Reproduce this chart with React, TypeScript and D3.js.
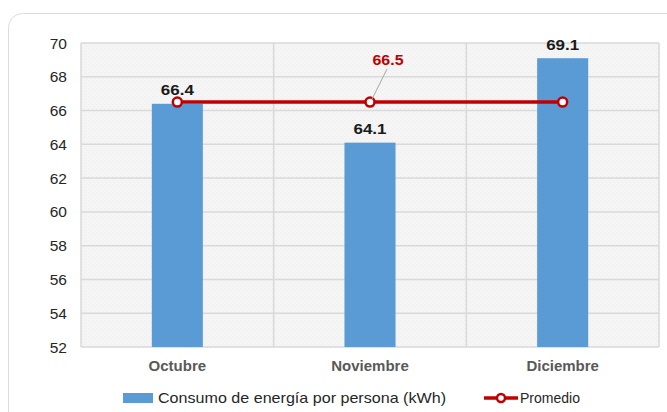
import React from "react";
import * as d3 from "d3";

const categories = ["Octubre", "Noviembre", "Diciembre"];
const consumo = [66.4, 64.1, 69.1];
const promedio = [66.5, 66.5, 66.5];
const yTicks = [52, 54, 56, 58, 60, 62, 64, 66, 68, 70];
const seriesNames = ["Consumo de energía por persona (kWh)", "Promedio"];

const W = 667, H = 412;
const M = { left: 81, right: 659, top: 43, bottom: 347 };
const FONT = "'Liberation Sans', Arial, sans-serif";

export default function App() {
  const x = d3.scaleBand<string>().domain(categories).range([M.left, M.right]).paddingInner(0).paddingOuter(0);
  const y = d3.scaleLinear().domain([52, 70]).range([M.bottom, M.top]);
  const bw = x.bandwidth() * 0.265;
  const cx = (c: string) => (x(c) as number) + x.bandwidth() / 2;
  const line = d3.line<number>().x((_, i) => cx(categories[i])).y((d) => y(d));

  return (
    <svg width={W} height={H} style={{ position: "absolute", left: 0, top: 0, fontFamily: FONT }}>
      <defs>
        <pattern id="dots" width="4" height="4" patternUnits="userSpaceOnUse">
          <rect width="4" height="4" fill="#f5f5f5" />
          <rect width="1" height="1" fill="#ececec" />
          <rect x="2" y="2" width="1" height="1" fill="#ececec" />
        </pattern>
      </defs>
      <rect x={0} y={0} width={W} height={H} fill="#fff" />
      <rect x={8.5} y={13.5} width={700} height={450} rx={14} fill="#fff" stroke="#dcdcdc" strokeWidth={1} />
      <rect x={M.left} y={M.top} width={M.right - M.left} height={M.bottom - M.top} fill="url(#dots)" />
      {yTicks.map((t) => (
        <g key={t}>
          <line x1={M.left} x2={M.right} y1={y(t)} y2={y(t)} stroke="#d9d9d9" strokeWidth={1.5} />
          <text x={67} y={y(t)} dy="0.36em" textAnchor="end" fontSize={15.5} fill="#262626">{t}</text>
        </g>
      ))}
      {categories.map((c) => (
        <line key={c} x1={x(c) as number} x2={x(c) as number} y1={M.top} y2={M.bottom} stroke="#d9d9d9" strokeWidth={1.5} />
      ))}
      <line x1={M.right} x2={M.right} y1={M.top} y2={M.bottom} stroke="#d9d9d9" strokeWidth={1.5} />
      {categories.map((c, i) => (
        <g key={c}>
          <rect x={cx(c) - bw / 2} y={y(consumo[i])} width={bw} height={M.bottom - y(consumo[i])} fill="#5b9bd5" />
          <text x={cx(c)} y={y(consumo[i]) - 8.5} textAnchor="middle" fontSize={15} fontWeight="bold" fill="#1a1a1a" textLength={33} lengthAdjust="spacingAndGlyphs">{consumo[i].toFixed(1)}</text>
          <text x={cx(c)} y={371} textAnchor="middle" fontSize={15} fontWeight="bold" fill="#595959">{c}</text>
        </g>
      ))}
      <path d={line(promedio) || ""} fill="none" stroke="#c00000" strokeWidth={3.5} />
      {promedio.map((v, i) => (
        <circle key={i} cx={cx(categories[i])} cy={y(v)} r={4.5} fill="#fff" stroke="#c00000" strokeWidth={2.5} />
      ))}
      <line x1={cx(categories[1]) + 2} y1={y(promedio[1]) - 3} x2={cx(categories[1]) + 17} y2={y(promedio[1]) - 33} stroke="#a6a6a6" strokeWidth={1} />
      <text x={cx(categories[1]) + 18} y={y(promedio[1]) - 37} textAnchor="middle" fontSize={15} fontWeight="bold" fill="#c00000" textLength={31} lengthAdjust="spacingAndGlyphs">{promedio[1].toFixed(1)}</text>
      <rect x={123} y={393} width={30} height={10} fill="#5b9bd5" />
      <text x={158} y={398} dy="0.36em" fontSize={15} fill="#262626" textLength={288} lengthAdjust="spacingAndGlyphs">{seriesNames[0]}</text>
      <line x1={484} x2={518} y1={398} y2={398} stroke="#c00000" strokeWidth={3.5} />
      <circle cx={501} cy={398} r={4} fill="#fff" stroke="#c00000" strokeWidth={2.5} />
      <text x={520} y={398} dy="0.36em" fontSize={15} fill="#262626" textLength={60} lengthAdjust="spacingAndGlyphs">{seriesNames[1]}</text>
    </svg>
  );
}
